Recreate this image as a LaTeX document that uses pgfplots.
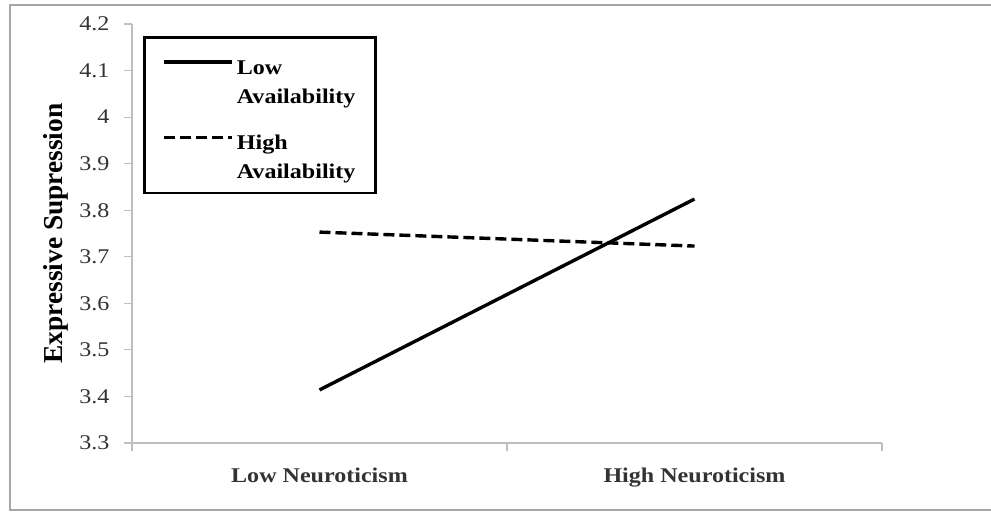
\documentclass[border=0pt]{standalone}
\usepackage{pgfplots}
\pgfplotsset{compat=1.18}
\usepackage{fontspec}
\setmainfont{Liberation Serif}
\newfontfamily\wide[FakeStretch=1.15]{Liberation Serif}

\definecolor{frame}{HTML}{A6A6A6}
\definecolor{axisgray}{HTML}{BFBFBF}
\definecolor{ticktext}{HTML}{333333}

\newcommand{\strutx}{\rule{0pt}{24bp}}

\begin{document}
\begin{tikzpicture}
\useasboundingbox (0bp,0bp) rectangle (991bp,512bp);
\draw[frame, line width=2bp] (1000bp,507bp) -- (10bp,507bp) -- (10bp,2bp) -- (1000bp,2bp);
\begin{axis}[
    at={(132bp,69bp)}, anchor=south west,
    scale only axis,
    width=750bp, height=419bp,
    xmin=0, xmax=2,
    ymin=3.3, ymax=4.2,
    axis x line=bottom, axis y line=left,
    axis line style={-, draw=axisgray, line width=1.2bp},
    xtick={0,1,2},
    xticklabels={Low Neuroticism, High Neuroticism},
    x tick label as interval,
    ytick={3.3,3.4,3.5,3.6,3.7,3.8,3.9,4.0,4.1,4.2},
    yticklabels={3.3,3.4,3.5,3.6,3.7,3.8,3.9,4,4.1,4.2},
    tick align=outside,
    major tick length=8bp,
    tick style={draw=axisgray, line width=1.2bp},
    yticklabel style={font=\wide\fontsize{21}{24}\selectfont, text=ticktext, xshift=-11bp},
    xticklabel style={font=\wide\bfseries\fontsize{21}{24}\selectfont, text=ticktext, yshift=-13bp},
    ylabel={Expressive Supression},
    every axis y label/.style={at={(axis description cs:-0.101,0.5)}, rotate=90, anchor=center,
        font=\bfseries\fontsize{27.5}{30}\selectfont},
    legend style={at={(axis description cs:0.015,0.971)}, anchor=north west,
        draw=black, line width=2.5bp,
        font=\wide\bfseries\fontsize{21}{29}\selectfont,
        inner xsep=18bp, inner ysep=11bp,
        row sep=17bp},
    legend cell align=left,
    legend image code/.code={\draw[#1] (0bp,15.7bp) -- (68bp,15.7bp); \path (69bp,15.7bp);},
]
\addplot[black, line width=3.4bp] coordinates {(0.5,3.414) (1.5,3.824)};
\addlegendentry[align=left]{\strutx Low\\Availability}
\addplot[black, line width=3.4bp, dash pattern=on 11bp off 5bp] coordinates {(0.5,3.753) (1.5,3.723)};
\addlegendentry[align=left]{\strutx High\\Availability}
\end{axis}
\end{tikzpicture}
\end{document}
